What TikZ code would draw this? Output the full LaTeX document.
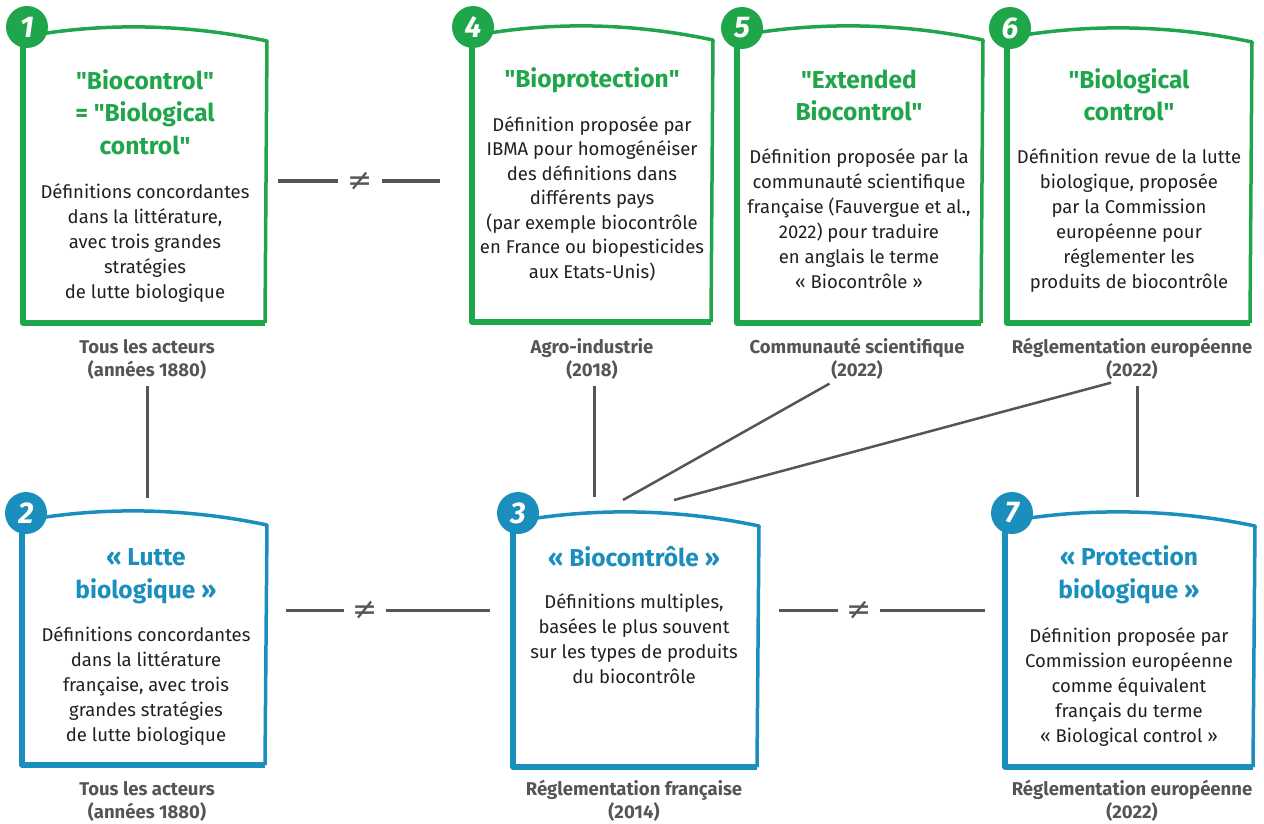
\documentclass[tikz,border=0pt]{standalone}
\usepackage{fontspec}
\setmainfont{Fira Sans}
\newfontfamily\symb{DejaVu Sans}
\usepackage{xcolor}
\usetikzlibrary{positioning,calc}

\definecolor{vert}{RGB}{31,166,74}
\definecolor{bleu}{RGB}{26,143,189}
\definecolor{gris}{RGB}{85,85,85}
\definecolor{noir}{RGB}{35,31,32}

% cadre: colour, left, top, right, bottom
\newcommand{\cadre}[5]{%
  \draw[#1, line width=3.5pt, line join=round] (#2,#3+12) .. controls (#2+80,#3-3) and (#4-80,#3-1) .. (#4,#3+16) -- (#4-2,#5);
  \draw[#1, line width=5.5pt, line join=round] (#4-2,#5) -- (#2,#5) -- (#2,#3+12);
}
\newcommand{\gu}{\textquotedbl}

\tikzset{
  titre/.style={align=center, font=\fontsize{24.5}{32.5}\selectfont\bfseries, anchor=base, inner sep=0pt},
  corps/.style={align=center, font=\fontsize{18.5}{25}\selectfont, text=noir, anchor=base, inner sep=0pt},
  acteur/.style={align=center, font=\fontsize{18.5}{23.5}\selectfont\bfseries, text=gris, anchor=base, inner sep=2pt},
  pastille/.style={circle, inner sep=0pt, minimum size=42pt, font=\fontsize{30}{30}\selectfont\bfseries\itshape, text=white},
  lien/.style={draw=gris, line width=3pt},
  diff/.style={text=gris, font=\symb\fontsize{30}{30}\selectfont, minimum width=44pt, inner sep=0pt},
}

\begin{document}
\begin{tikzpicture}[x=1pt,y=-1pt]
\useasboundingbox (0,0) rectangle (1264,824);

% top row
\cadre{vert}{23}{25}{267}{323}
\cadre{vert}{472}{24}{713}{322}
\cadre{vert}{737}{24}{983}{323}
\cadre{vert}{1007}{26}{1252}{323}
% bottom row
\cadre{bleu}{22}{509}{267}{765}
\cadre{bleu}{513}{510}{759}{767}
\cadre{bleu}{1005}{510}{1255}{767}

\node[pastille, fill=vert] (p1) at (27,27) {1};
\node[pastille, fill=vert] (p4) at (473,27) {4};
\node[pastille, fill=vert] (p5) at (742,28) {5};
\node[pastille, fill=vert] (p6) at (1010,28) {6};
\node[pastille, fill=bleu] (p2) at (26,513) {2};
\node[pastille, fill=bleu] (p3) at (518,513) {3};
\node[pastille, fill=bleu] (p7) at (1012,513) {7};

% box 1 (base = last line)
\node[titre, text=vert] (t1) at (145,154) {\gu Biocontrol\gu\\= \gu Biological\\control\gu};
\node[corps] (c1) at (145,298) {Définitions concordantes\\dans la littérature,\\avec trois grandes\\stratégies\\de lutte biologique};
\node[acteur] (lab1) at (147,376.5) {Tous les acteurs\\(années 1880)};

% box 4
\node[titre, text=vert] (t4) at (592,88) {\gu Bioprotection\gu};
\node[corps, font=\fontsize{18.5}{24.5}\selectfont] (c4) at (592,278) {Définition proposée par\\IBMA pour homogénéiser\\des définitions dans\\différents pays\\(par exemple biocontrôle\\en France ou biopesticides\\aux Etats-Unis)};
\node[acteur] (lab4) at (592,376.5) {Agro-industrie\\(2018)};

% box 5
\node[titre, text=vert] (t5) at (859,121) {\gu Extended\\Biocontrol\gu};
\node[corps] (c5) at (859,288) {Définition proposée par la\\communauté scientifique\\française (Fauvergue et al.,\\2022) pour traduire\\en anglais le terme\\« Biocontrôle »};
\node[acteur] (lab5) at (857,376.5) {Communauté scientifique\\(2022)};

% box 6
\node[titre, text=vert] (t6) at (1129,121) {\gu Biological\\control\gu};
\node[corps] (c6) at (1129,288) {Définition revue de la lutte\\biologique, proposée\\par la Commission\\européenne pour\\réglementer les\\produits de biocontrôle};
\node[acteur] (lab6) at (1132,376.5) {Réglementation européenne\\(2022)};

% box 2
\node[titre, text=bleu] (t2) at (146,598) {« Lutte\\biologique »};
\node[corps] (c2) at (146,741) {Définitions concordantes\\dans la littérature\\française, avec trois\\grandes stratégies\\de lutte biologique};
\node[acteur] (lab2) at (147,818.5) {Tous les acteurs\\(années 1880)};

% box 3
\node[titre, text=bleu] (t3) at (634,566) {« Biocontrôle »};
\node[corps] (c3) at (634,683) {Définitions multiples,\\basées le plus souvent\\sur les types de produits\\du biocontrôle};
\node[acteur] (lab3) at (634,818.5) {Réglementation française\\(2014)};

% box 7
\node[titre, text=bleu] (t7) at (1129,598) {« Protection\\biologique »};
\node[corps] (c7) at (1129,742) {Définition proposée par\\Commission européenne\\comme équivalent\\français du terme\\« Biological control »};
\node[acteur] (lab7) at (1132,818.5) {Réglementation européenne\\(2022)};

% links between boxes
\coordinate (b2n) at (147,498);
\coordinate (b3a) at (594,497);
\coordinate (b3b) at (623,500);
\coordinate (b3c) at (674,500);
\coordinate (b7n) at (1137,497);
\draw[lien, shorten <=4pt] (lab1.south) -- (b2n);
\draw[lien, shorten <=4pt] ([xshift=2pt]lab4.south) -- (b3a);
\draw[lien, line width=2.5pt, shorten <=4pt] ([xshift=-24pt]lab5.south) -- (b3b);
\draw[lien, line width=2.5pt, shorten <=4pt] ([xshift=-17pt]lab6.south) -- (b3c);
\draw[lien, shorten <=4pt] ([xshift=5pt]lab6.south) -- (b7n);

% not equal
\node[diff] (d14) at (360,181) {≠};
\coordinate (g14) at (278,181);
\coordinate (h14) at (440,181);
\draw[lien] (g14) -- (d14.west);
\draw[lien] (d14.east) -- (h14);

\node[diff, minimum width=41pt] (d23) at (365,610) {≠};
\coordinate (g23) at (286,610);
\coordinate (h23) at (490,610);
\draw[lien] (g23) -- (d23.west);
\draw[lien] (d23.east) -- (h23);

\node[diff, minimum width=41pt] (d37) at (859,610) {≠};
\coordinate (g37) at (779,610);
\coordinate (h37) at (985,610);
\draw[lien] (g37) -- (d37.west);
\draw[lien] (d37.east) -- (h37);

\end{tikzpicture}
\end{document}
